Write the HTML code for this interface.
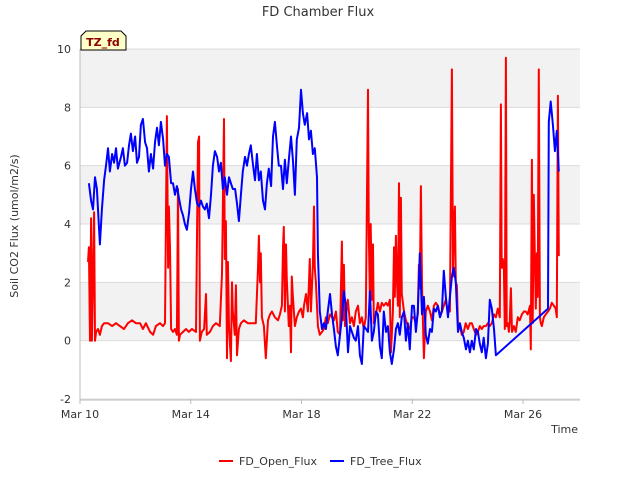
<!DOCTYPE html>
<html><head><meta charset="utf-8"><style>
body{margin:0;background:#fff;font-family:"Liberation Sans","DejaVu Sans",sans-serif}
svg text{font-family:"DejaVu Sans","Liberation Sans",sans-serif}
</style></head><body>
<svg id="chart" width="640" height="480" viewBox="0 0 640 480">
<rect width="640" height="480" fill="#fff"/>
<text x="318" y="16" text-anchor="middle" font-size="13" fill="#333">FD Chamber Flux</text>
<g id="bands"></g><g id="grid"></g>
<line x1="80" y1="49" x2="80" y2="400" stroke="#bbb"/>
<line x1="80" y1="400" x2="580" y2="400" stroke="#bbb"/>
<g id="yticks"></g><g id="xticks"></g>
<g id="series"></g>
<text transform="translate(18,226) rotate(-90)" text-anchor="middle" font-size="11" fill="#333">Soil CO2 Flux (umol/m2/s)</text>
<text x="578" y="433" text-anchor="end" font-size="11" fill="#333">Time</text>
<g>
<path d="M81,50 L81,36 L86,31 L121,31 L126,36 L126,50 Z" fill="#ffffc8" stroke="#000" stroke-width="1"/>
<text x="103" y="46" text-anchor="middle" font-size="11" font-weight="bold" fill="#8b0000">TZ_fd</text>
</g>
<g>
<g><line x1="219" y1="461" x2="233" y2="461" stroke="#f00" stroke-width="2"/><text x="239" y="465" font-size="11" fill="#333">FD_Open_Flux</text></g>
<g><line x1="330" y1="461" x2="344" y2="461" stroke="#00f" stroke-width="2"/><text x="350" y="465" font-size="11" fill="#333">FD_Tree_Flux</text></g>
</g>
</svg>
<script>
const yTicks=[-2,0,2,4,6,8,10];
const xTickDays=[0,4,8,12,16];
const xTickLabels=["Mar 10","Mar 14","Mar 18","Mar 22","Mar 26"];
const treeDays=[.32,.40,.47,.54,.61,.72,.79,.87,.94,1.01,1.08,1.16,1.23,1.30,1.37,1.48,1.55,1.62,1.70,1.77,1.84,1.91,1.99,2.06,2.13,2.20,2.27,2.35,2.42,2.49,2.56,2.64,2.71,2.78,2.85,2.92,3.00,3.07,3.14,3.21,3.29,3.36,3.43,3.50,3.57,3.65,3.72,3.79,3.86,3.94,4.01,4.08,4.15,4.23,4.30,4.37,4.44,4.51,4.58,4.66,4.73,4.80,4.87,4.95,5.02,5.09,5.16,5.23,5.31,5.38,5.45,5.52,5.60,5.67,5.74,5.81,5.88,5.96,6.03,6.10,6.17,6.25,6.32,6.39,6.46,6.53,6.61,6.68,6.75,6.82,6.90,6.97,7.04,7.11,7.18,7.26,7.33,7.40,7.47,7.55,7.62,7.69,7.76,7.83,7.91,7.98,8.05,8.12,8.20,8.27,8.34,8.41,8.48,8.56,8.59,8.66,8.74,8.81,8.88,8.95,9.03,9.10,9.17,9.24,9.31,9.39,9.46,9.53,9.60,9.68,9.75,9.82,9.89,9.96,10.04,10.11,10.18,10.25,10.33,10.40,10.47,10.54,10.61,10.69,10.76,10.83,10.90,10.97,11.05,11.12,11.19,11.26,11.34,11.41,11.48,11.55,11.62,11.70,11.77,11.84,11.91,11.99,12.06,12.13,12.20,12.27,12.35,12.42,12.49,12.56,12.64,12.71,12.78,12.85,12.92,13.00,13.07,13.14,13.21,13.29,13.36,13.43,13.50,13.57,13.65,13.72,13.79,13.86,13.94,14.01,14.08,14.15,14.22,14.30,14.37,14.44,14.51,14.58,14.66,14.73,14.80,14.87,14.95,15.02,16.90,16.93,17.00,17.08,17.15,17.22,17.29];
const treeValues=[5.4,4.8,4.5,5.6,5.2,3.3,4.5,5.5,6.0,6.6,5.8,6.4,6.1,6.6,5.9,6.3,6.6,6.0,6.1,6.7,7.1,6.5,7.0,6.1,6.3,7.4,7.6,6.8,6.6,5.8,6.4,5.9,6.8,7.3,6.7,7.5,6.9,6.0,6.4,6.3,5.4,5.4,5.0,5.3,4.9,4.5,4.3,4.0,3.8,4.4,5.2,5.8,5.2,4.7,4.6,4.8,4.6,4.5,4.7,4.2,5.0,6.0,6.5,6.3,5.8,6.1,5.2,5.6,5.0,5.6,5.4,5.2,5.2,4.7,4.1,5.0,5.8,6.3,6.0,6.4,6.7,6.0,5.5,6.4,5.5,5.8,4.8,4.5,5.4,5.9,5.3,7.0,7.5,6.7,6.0,6.0,5.2,6.2,5.4,6.3,7.0,6.2,5.0,6.9,7.3,8.6,7.8,7.4,7.8,6.9,7.2,6.4,6.6,5.6,3.0,1.0,0.4,0.6,0.4,1.0,1.6,0.9,0.4,-0.2,-0.5,0.2,0.8,1.7,1.2,-0.4,0.5,0.3,0.1,0.0,0.5,-0.5,-0.8,0.5,0.4,0.3,1.7,0.0,0.3,1.0,0.9,-0.2,-0.6,1.0,0.3,0.5,-0.4,-0.8,-0.3,0.4,0.6,0.2,0.8,1.0,0.0,0.6,-0.3,1.2,1.2,0.3,1.0,3.0,0.9,1.5,0.2,-0.1,0.4,0.3,1.1,1.0,1.2,0.8,1.0,2.4,1.5,0.8,1.5,2.2,2.5,2.0,0.3,0.6,0.3,0.1,-0.3,0.0,-0.4,0.0,-0.3,0.4,0.3,-0.1,-0.4,0.1,-0.6,-0.1,1.4,1.1,0.4,-0.5,1.1,7.5,8.2,7.4,6.5,7.2,5.8];
const openDays=[.29,.32,.36,.40,.43,.51,.54,.58,.65,.72,.79,.87,1.01,1.16,1.30,1.44,1.59,1.73,1.88,2.02,2.17,2.27,2.38,2.53,2.64,2.74,2.89,3.00,3.07,3.14,3.18,3.21,3.25,3.29,3.36,3.43,3.50,3.54,3.57,3.61,3.72,3.83,3.93,4.04,4.19,4.26,4.30,4.33,4.40,4.48,4.55,4.58,4.69,4.80,4.91,5.05,5.13,5.20,5.23,5.27,5.31,5.34,5.38,5.45,5.49,5.52,5.59,5.63,5.67,5.74,5.81,5.92,6.06,6.21,6.35,6.43,6.46,6.50,6.53,6.57,6.64,6.71,6.79,6.86,6.93,7.04,7.15,7.22,7.29,7.33,7.36,7.40,7.44,7.47,7.54,7.58,7.62,7.65,7.69,7.76,7.83,7.91,7.98,8.05,8.09,8.16,8.23,8.30,8.34,8.41,8.45,8.48,8.52,8.59,8.66,8.74,8.81,8.88,8.95,9.03,9.10,9.17,9.24,9.31,9.39,9.46,9.49,9.53,9.57,9.60,9.67,9.75,9.82,9.89,9.96,10.04,10.11,10.18,10.25,10.32,10.40,10.43,10.47,10.50,10.54,10.58,10.61,10.69,10.76,10.83,10.90,10.97,11.05,11.12,11.19,11.23,11.30,11.34,11.37,11.41,11.44,11.48,11.52,11.55,11.59,11.62,11.70,11.77,11.84,11.91,11.99,12.06,12.13,12.20,12.24,12.27,12.31,12.35,12.42,12.49,12.56,12.64,12.71,12.78,12.85,12.92,13.00,13.07,13.14,13.21,13.28,13.36,13.43,13.47,13.50,13.54,13.57,13.61,13.65,13.72,13.79,13.86,13.93,14.01,14.08,14.15,14.22,14.30,14.37,14.44,14.51,14.58,14.66,14.73,14.80,14.87,14.95,15.02,15.09,15.16,15.20,15.23,15.27,15.31,15.34,15.38,15.41,15.45,15.49,15.52,15.56,15.60,15.67,15.74,15.81,15.88,15.96,16.03,16.10,16.17,16.25,16.28,16.32,16.35,16.39,16.43,16.46,16.50,16.53,16.57,16.61,16.64,16.68,16.75,16.82,16.90,16.97,17.04,17.11,17.18,17.22,17.26,17.29];
const openValues=[2.7,3.2,0.0,4.2,0.0,4.4,0.0,0.3,0.4,0.2,0.5,0.6,0.6,0.5,0.6,0.5,0.4,0.6,0.7,0.6,0.6,0.4,0.6,0.3,0.2,0.5,0.6,0.5,0.6,7.7,2.5,4.6,3.2,0.4,0.3,0.4,0.2,5.2,0.0,0.2,0.3,0.4,0.3,0.4,0.3,6.8,7.0,0.0,0.3,0.4,1.6,0.2,0.3,0.5,0.6,0.5,2.3,7.6,2.8,4.1,-0.6,2.7,0.5,-0.7,2.0,1.0,0.2,1.9,-0.5,0.4,0.6,0.7,0.6,0.6,0.6,2.5,3.6,2.0,3.0,0.8,0.5,-0.6,0.7,0.9,1.0,0.8,0.7,0.9,1.2,3.2,3.9,1.0,3.3,2.1,0.5,1.2,-0.4,2.2,1.5,0.5,0.8,1.0,1.1,0.8,1.2,1.6,1.0,2.8,1.0,2.6,4.6,2.5,2.0,0.5,0.2,0.3,0.4,0.8,0.6,0.9,0.8,0.7,1.0,0.3,0.2,3.4,0.7,2.6,0.5,0.8,1.4,0.6,0.8,0.5,1.0,1.2,0.6,0.8,0.4,0.8,8.6,3.7,1.4,4.0,1.4,3.3,0.6,0.9,1.3,1.0,1.3,1.2,1.3,1.2,1.4,-0.4,1.0,3.2,1.5,3.6,2.2,1.2,5.4,0.8,4.9,1.6,1.0,0.7,0.5,0.4,0.8,0.8,0.6,0.9,2.6,1.8,5.3,1.9,-0.6,1.0,1.2,1.0,0.7,1.2,1.3,1.2,0.9,1.0,1.2,1.4,1.0,1.0,9.3,2.2,3.8,4.6,2.0,1.9,0.5,0.5,0.2,0.3,0.6,0.4,0.6,0.6,0.4,0.2,0.3,0.5,0.4,0.5,0.5,0.6,0.5,0.6,0.9,0.8,1.1,0.8,8.1,2.5,2.8,2.4,0.4,9.7,0.5,0.6,0.3,0.6,1.8,0.3,0.5,0.3,0.8,0.7,0.9,1.0,1.0,0.9,1.2,-0.3,6.2,0.6,5.0,2.8,1.1,3.0,1.5,9.3,0.8,0.6,0.5,0.8,0.9,1.0,1.1,1.3,1.2,1.1,0.8,8.4,2.9];

const NS="http://www.w3.org/2000/svg";
const X0=80,X1=580,Y0=49,Y1=399;
function xScale(d){return X0+d*27.69;}
function yScale(v){return Y1-(v+2)/12*(Y1-Y0);}
function mk(tag,attrs,parent){const e=document.createElementNS(NS,tag);for(const k in attrs)e.setAttribute(k,attrs[k]);parent.appendChild(e);return e;}
const bands=document.getElementById('bands'),grid=document.getElementById('grid'),yt=document.getElementById('yticks'),xt=document.getElementById('xticks'),ser=document.getElementById('series');
for(let i=0;i<yTicks.length-1;i++){
  if(i%2===1){
    const r=mk('rect',{x:X0,y:yScale(yTicks[i+1]),width:X1-X0,height:yScale(yTicks[i])-yScale(yTicks[i+1]),fill:'#f2f2f2'},bands);
    
    
  }
}
yTicks.forEach(v=>{
  const y=yScale(v);
  const l=mk('line',{x1:X0,x2:X1,y1:y,y2:y,stroke:'#dcdcdc'},grid);
  
  
  const t=mk('text',{x:X0-9,y:y+4,'text-anchor':'end','font-size':'11',fill:'#333'},yt);
  t.textContent=v;
  
  
});
xTickDays.forEach((d,i)=>{
  const x=xScale(d);
  const l=mk('line',{x1:x,x2:x,y1:Y1,y2:Y1+5,stroke:'#bbb'},xt);
  
  
  const t=mk('text',{x:x,y:Y1+19,'text-anchor':'middle','font-size':'11',fill:'#333'},xt);
  t.textContent=xTickLabels[i];
  
  
});
function line(days,vals,color,name){
  const p=days.map((d,i)=>(i?'L':'M')+xScale(d).toFixed(1)+','+yScale(vals[i]).toFixed(1)).join('');
  const e=mk('path',{d:p,fill:'none',stroke:color,'stroke-width':'2','stroke-linejoin':'round'},ser);
  
  
}
line(openDays,openValues,'#ff0000','open-flux-line');
line(treeDays,treeValues,'#0000ff','tree-flux-line');
</script>
</body></html>
